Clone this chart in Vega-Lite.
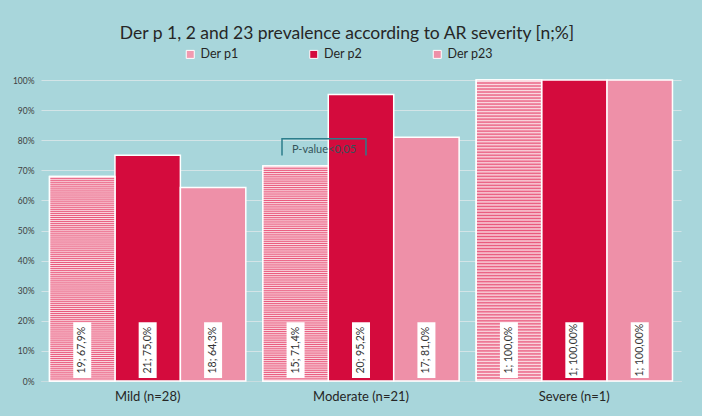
{
  "$schema": "https://vega.github.io/schema/vega-lite/v6.json",
  "width": 640,
  "height": 301,
  "autosize": "none",
  "padding": {"left": 41, "top": 80, "right": 21, "bottom": 35},
  "background": "#A8D6DB",
  "config": {"view": {"stroke": null}, "font": "Lato"},
  "title": {
    "text": "Der p 1, 2 and 23 prevalence according to AR severity [n;%]",
    "font": "Lato", "fontSize": 17.5, "fontWeight": "normal", "color": "#262626",
    "anchor": "middle", "frame": "group", "dx": -14, "offset": 6
  },
  "layer": [
    {
      "data": {"values": [
        {"group": "Mild (n=28)", "series": "Der p1", "value": 67.9, "label": "19; 67,9%"},
        {"group": "Mild (n=28)", "series": "Der p2", "value": 75.0, "label": "21; 75,0%"},
        {"group": "Mild (n=28)", "series": "Der p23", "value": 64.3, "label": "18; 64,3%"},
        {"group": "Moderate (n=21)", "series": "Der p1", "value": 71.4, "label": "15; 71,4%"},
        {"group": "Moderate (n=21)", "series": "Der p2", "value": 95.2, "label": "20; 95,2%"},
        {"group": "Moderate (n=21)", "series": "Der p23", "value": 81.0, "label": "17; 81,0%"},
        {"group": "Severe (n=1)", "series": "Der p1", "value": 100, "label": "1; 100,0%"},
        {"group": "Severe (n=1)", "series": "Der p2", "value": 100, "label": "1; 100,00%"},
        {"group": "Severe (n=1)", "series": "Der p23", "value": 100, "label": "1; 100,00%"}
      ]},
      "encoding": {
        "x": {"field": "group", "type": "nominal", "sort": null, "title": null,
          "scale": {"paddingInner": 0.08, "paddingOuter": 0.04},
          "axis": {"labelAngle": 0, "labelFontSize": 13, "labelColor": "#262626", "labelPadding": 9, "ticks": false, "domainColor": "#C8DDE0", "grid": false}},
        "xOffset": {"field": "series", "type": "nominal", "sort": null, "scale": {"paddingInner": 0, "paddingOuter": 0}}
      },
      "layer": [
        {
          "mark": {"type": "bar", "stroke": "white", "strokeWidth": 1.5},
          "encoding": {
            "y": {"field": "value", "type": "quantitative", "title": null,
              "scale": {"domain": [0, 100]},
              "axis": {"values": [0, 10, 20, 30, 40, 50, 60, 70, 80, 90, 100], "labelExpr": "datum.value + '%'", "labelFontSize": 8.5, "labelColor": "#404040", "labelPadding": 7, "ticks": false, "domain": false, "gridColor": "#D3E4E7", "gridWidth": 1.2, "labelOverlap": false}},
            "color": {"field": "series", "type": "nominal", "sort": null,
              "scale": {"range": ["#F19AB0", "#D40B3D", "#EE90A8"]},
              "legend": {"orient": "none", "direction": "horizontal", "columns": 3, "gridAlign": "all", "columnPadding": 61.5, "legendX": 143, "legendY": -32, "title": null, "symbolType": "square", "symbolSize": 64, "symbolStrokeColor": "white", "symbolStrokeWidth": 1, "labelFontSize": 12.5, "labelColor": "#262626", "labelOffset": 4, "padding": 0}}
          }
        },
        {
          "transform": [{"filter": "datum.series === 'Der p1'"}],
          "mark": {"type": "bar", "stroke": "white", "strokeWidth": 1.5, "fill": {"gradient": "linear", "x1": 0, "y1": 0, "x2": 0, "y2": 1, "stops": [
{"offset":0,"color":"#E9587C"},{"offset":0.005,"color":"#FADCE3"},{"offset":0.01,"color":"#E9587C"},{"offset":0.015,"color":"#FADCE3"},{"offset":0.02,"color":"#E9587C"},{"offset":0.025,"color":"#FADCE3"},{"offset":0.03,"color":"#E9587C"},{"offset":0.035,"color":"#FADCE3"},{"offset":0.04,"color":"#E9587C"},{"offset":0.045,"color":"#FADCE3"},
{"offset":0.05,"color":"#E9587C"},{"offset":0.055,"color":"#FADCE3"},{"offset":0.06,"color":"#E9587C"},{"offset":0.065,"color":"#FADCE3"},{"offset":0.07,"color":"#E9587C"},{"offset":0.075,"color":"#FADCE3"},{"offset":0.08,"color":"#E9587C"},{"offset":0.085,"color":"#FADCE3"},{"offset":0.09,"color":"#E9587C"},{"offset":0.095,"color":"#FADCE3"},
{"offset":0.1,"color":"#E9587C"},{"offset":0.105,"color":"#FADCE3"},{"offset":0.11,"color":"#E9587C"},{"offset":0.115,"color":"#FADCE3"},{"offset":0.12,"color":"#E9587C"},{"offset":0.125,"color":"#FADCE3"},{"offset":0.13,"color":"#E9587C"},{"offset":0.135,"color":"#FADCE3"},{"offset":0.14,"color":"#E9587C"},{"offset":0.145,"color":"#FADCE3"},
{"offset":0.15,"color":"#E9587C"},{"offset":0.155,"color":"#FADCE3"},{"offset":0.16,"color":"#E9587C"},{"offset":0.165,"color":"#FADCE3"},{"offset":0.17,"color":"#E9587C"},{"offset":0.175,"color":"#FADCE3"},{"offset":0.18,"color":"#E9587C"},{"offset":0.185,"color":"#FADCE3"},{"offset":0.19,"color":"#E9587C"},{"offset":0.195,"color":"#FADCE3"},
{"offset":0.2,"color":"#E9587C"},{"offset":0.205,"color":"#FADCE3"},{"offset":0.21,"color":"#E9587C"},{"offset":0.215,"color":"#FADCE3"},{"offset":0.22,"color":"#E9587C"},{"offset":0.225,"color":"#FADCE3"},{"offset":0.23,"color":"#E9587C"},{"offset":0.235,"color":"#FADCE3"},{"offset":0.24,"color":"#E9587C"},{"offset":0.245,"color":"#FADCE3"},
{"offset":0.25,"color":"#E9587C"},{"offset":0.255,"color":"#FADCE3"},{"offset":0.26,"color":"#E9587C"},{"offset":0.265,"color":"#FADCE3"},{"offset":0.27,"color":"#E9587C"},{"offset":0.275,"color":"#FADCE3"},{"offset":0.28,"color":"#E9587C"},{"offset":0.285,"color":"#FADCE3"},{"offset":0.29,"color":"#E9587C"},{"offset":0.295,"color":"#FADCE3"},
{"offset":0.3,"color":"#E9587C"},{"offset":0.305,"color":"#FADCE3"},{"offset":0.31,"color":"#E9587C"},{"offset":0.315,"color":"#FADCE3"},{"offset":0.32,"color":"#E9587C"},{"offset":0.325,"color":"#FADCE3"},{"offset":0.33,"color":"#E9587C"},{"offset":0.335,"color":"#FADCE3"},{"offset":0.34,"color":"#E9587C"},{"offset":0.345,"color":"#FADCE3"},
{"offset":0.35,"color":"#E9587C"},{"offset":0.355,"color":"#FADCE3"},{"offset":0.36,"color":"#E9587C"},{"offset":0.365,"color":"#FADCE3"},{"offset":0.37,"color":"#E9587C"},{"offset":0.375,"color":"#FADCE3"},{"offset":0.38,"color":"#E9587C"},{"offset":0.385,"color":"#FADCE3"},{"offset":0.39,"color":"#E9587C"},{"offset":0.395,"color":"#FADCE3"},
{"offset":0.4,"color":"#E9587C"},{"offset":0.405,"color":"#FADCE3"},{"offset":0.41,"color":"#E9587C"},{"offset":0.415,"color":"#FADCE3"},{"offset":0.42,"color":"#E9587C"},{"offset":0.425,"color":"#FADCE3"},{"offset":0.43,"color":"#E9587C"},{"offset":0.435,"color":"#FADCE3"},{"offset":0.44,"color":"#E9587C"},{"offset":0.445,"color":"#FADCE3"},
{"offset":0.45,"color":"#E9587C"},{"offset":0.455,"color":"#FADCE3"},{"offset":0.46,"color":"#E9587C"},{"offset":0.465,"color":"#FADCE3"},{"offset":0.47,"color":"#E9587C"},{"offset":0.475,"color":"#FADCE3"},{"offset":0.48,"color":"#E9587C"},{"offset":0.485,"color":"#FADCE3"},{"offset":0.49,"color":"#E9587C"},{"offset":0.495,"color":"#FADCE3"},
{"offset":0.5,"color":"#E9587C"},{"offset":0.505,"color":"#FADCE3"},{"offset":0.51,"color":"#E9587C"},{"offset":0.515,"color":"#FADCE3"},{"offset":0.52,"color":"#E9587C"},{"offset":0.525,"color":"#FADCE3"},{"offset":0.53,"color":"#E9587C"},{"offset":0.535,"color":"#FADCE3"},{"offset":0.54,"color":"#E9587C"},{"offset":0.545,"color":"#FADCE3"},
{"offset":0.55,"color":"#E9587C"},{"offset":0.555,"color":"#FADCE3"},{"offset":0.56,"color":"#E9587C"},{"offset":0.565,"color":"#FADCE3"},{"offset":0.57,"color":"#E9587C"},{"offset":0.575,"color":"#FADCE3"},{"offset":0.58,"color":"#E9587C"},{"offset":0.585,"color":"#FADCE3"},{"offset":0.59,"color":"#E9587C"},{"offset":0.595,"color":"#FADCE3"},
{"offset":0.6,"color":"#E9587C"},{"offset":0.605,"color":"#FADCE3"},{"offset":0.61,"color":"#E9587C"},{"offset":0.615,"color":"#FADCE3"},{"offset":0.62,"color":"#E9587C"},{"offset":0.625,"color":"#FADCE3"},{"offset":0.63,"color":"#E9587C"},{"offset":0.635,"color":"#FADCE3"},{"offset":0.64,"color":"#E9587C"},{"offset":0.645,"color":"#FADCE3"},
{"offset":0.65,"color":"#E9587C"},{"offset":0.655,"color":"#FADCE3"},{"offset":0.66,"color":"#E9587C"},{"offset":0.665,"color":"#FADCE3"},{"offset":0.67,"color":"#E9587C"},{"offset":0.675,"color":"#FADCE3"},{"offset":0.68,"color":"#E9587C"},{"offset":0.685,"color":"#FADCE3"},{"offset":0.69,"color":"#E9587C"},{"offset":0.695,"color":"#FADCE3"},
{"offset":0.7,"color":"#E9587C"},{"offset":0.705,"color":"#FADCE3"},{"offset":0.71,"color":"#E9587C"},{"offset":0.715,"color":"#FADCE3"},{"offset":0.72,"color":"#E9587C"},{"offset":0.725,"color":"#FADCE3"},{"offset":0.73,"color":"#E9587C"},{"offset":0.735,"color":"#FADCE3"},{"offset":0.74,"color":"#E9587C"},{"offset":0.745,"color":"#FADCE3"},
{"offset":0.75,"color":"#E9587C"},{"offset":0.755,"color":"#FADCE3"},{"offset":0.76,"color":"#E9587C"},{"offset":0.765,"color":"#FADCE3"},{"offset":0.77,"color":"#E9587C"},{"offset":0.775,"color":"#FADCE3"},{"offset":0.78,"color":"#E9587C"},{"offset":0.785,"color":"#FADCE3"},{"offset":0.79,"color":"#E9587C"},{"offset":0.795,"color":"#FADCE3"},
{"offset":0.8,"color":"#E9587C"},{"offset":0.805,"color":"#FADCE3"},{"offset":0.81,"color":"#E9587C"},{"offset":0.815,"color":"#FADCE3"},{"offset":0.82,"color":"#E9587C"},{"offset":0.825,"color":"#FADCE3"},{"offset":0.83,"color":"#E9587C"},{"offset":0.835,"color":"#FADCE3"},{"offset":0.84,"color":"#E9587C"},{"offset":0.845,"color":"#FADCE3"},
{"offset":0.85,"color":"#E9587C"},{"offset":0.855,"color":"#FADCE3"},{"offset":0.86,"color":"#E9587C"},{"offset":0.865,"color":"#FADCE3"},{"offset":0.87,"color":"#E9587C"},{"offset":0.875,"color":"#FADCE3"},{"offset":0.88,"color":"#E9587C"},{"offset":0.885,"color":"#FADCE3"},{"offset":0.89,"color":"#E9587C"},{"offset":0.895,"color":"#FADCE3"},
{"offset":0.9,"color":"#E9587C"},{"offset":0.905,"color":"#FADCE3"},{"offset":0.91,"color":"#E9587C"},{"offset":0.915,"color":"#FADCE3"},{"offset":0.92,"color":"#E9587C"},{"offset":0.925,"color":"#FADCE3"},{"offset":0.93,"color":"#E9587C"},{"offset":0.935,"color":"#FADCE3"},{"offset":0.94,"color":"#E9587C"},{"offset":0.945,"color":"#FADCE3"},
{"offset":0.95,"color":"#E9587C"},{"offset":0.955,"color":"#FADCE3"},{"offset":0.96,"color":"#E9587C"},{"offset":0.965,"color":"#FADCE3"},{"offset":0.97,"color":"#E9587C"},{"offset":0.975,"color":"#FADCE3"},{"offset":0.98,"color":"#E9587C"},{"offset":0.985,"color":"#FADCE3"},{"offset":0.99,"color":"#E9587C"},{"offset":0.995,"color":"#FADCE3"},
{"offset":1,"color":"#E9587C"}
          ]}},
          "encoding": {"y": {"field": "value", "type": "quantitative", "title": null,
              "scale": {"domain": [0, 100]},
              "axis": {"values": [0, 10, 20, 30, 40, 50, 60, 70, 80, 90, 100], "labelExpr": "datum.value + '%'", "labelFontSize": 8.5, "labelColor": "#404040", "labelPadding": 7, "ticks": false, "domain": false, "gridColor": "#D3E4E7", "gridWidth": 1.2, "labelOverlap": false}}}
        },
        {
          "mark": {"type": "bar", "fill": "white", "width": 18},
          "encoding": {"y": {"datum": 19.5, "title": null,
              "scale": {"domain": [0, 100]},
              "axis": {"values": [0, 10, 20, 30, 40, 50, 60, 70, 80, 90, 100], "labelExpr": "datum.value + '%'", "labelFontSize": 8.5, "labelColor": "#404040", "labelPadding": 7, "ticks": false, "domain": false, "gridColor": "#D3E4E7", "gridWidth": 1.2, "labelOverlap": false}}, "y2": {"datum": 1}}
        },
        {
          "mark": {"type": "text", "angle": 270, "align": "center", "baseline": "middle", "fontSize": 10.5, "color": "#333333", "font": "Lato"},
          "encoding": {"y": {"datum": 10.25, "title": null,
              "scale": {"domain": [0, 100]},
              "axis": {"values": [0, 10, 20, 30, 40, 50, 60, 70, 80, 90, 100], "labelExpr": "datum.value + '%'", "labelFontSize": 8.5, "labelColor": "#404040", "labelPadding": 7, "ticks": false, "domain": false, "gridColor": "#D3E4E7", "gridWidth": 1.2, "labelOverlap": false}}, "text": {"field": "label"}}
        }
      ]
    },
    {
      "data": {"values": [
        {"i": 1, "bx": 0.6297, "by": 74.9},
        {"i": 2, "bx": 0.6297, "by": 80.5},
        {"i": 3, "bx": 1.0234, "by": 80.5},
        {"i": 4, "bx": 1.0234, "by": 74.9}
      ]},
      "mark": {"type": "line", "color": "#2C7E8C", "strokeWidth": 1.5},
      "encoding": {
        "x": {"field": "bx", "type": "quantitative", "scale": {"domain": [-0.5, 2.5]}, "axis": null},
        "y": {"field": "by", "type": "quantitative", "title": null,
              "scale": {"domain": [0, 100]},
              "axis": {"values": [0, 10, 20, 30, 40, 50, 60, 70, 80, 90, 100], "labelExpr": "datum.value + '%'", "labelFontSize": 8.5, "labelColor": "#404040", "labelPadding": 7, "ticks": false, "domain": false, "gridColor": "#D3E4E7", "gridWidth": 1.2, "labelOverlap": false}},
        "order": {"field": "i"}
      }
    },
    {
      "data": {"values": [{"bx": 0.8266, "by": 76.7, "note": "P-value<0,05"}]},
      "mark": {"type": "text", "fontSize": 11, "color": "#34545A", "font": "Lato", "align": "center", "baseline": "middle"},
      "encoding": {
        "x": {"field": "bx", "type": "quantitative", "scale": {"domain": [-0.5, 2.5]}, "axis": null},
        "y": {"field": "by", "type": "quantitative", "title": null,
              "scale": {"domain": [0, 100]},
              "axis": {"values": [0, 10, 20, 30, 40, 50, 60, 70, 80, 90, 100], "labelExpr": "datum.value + '%'", "labelFontSize": 8.5, "labelColor": "#404040", "labelPadding": 7, "ticks": false, "domain": false, "gridColor": "#D3E4E7", "gridWidth": 1.2, "labelOverlap": false}},
        "text": {"field": "note"}
      }
    }
  ],
  "resolve": {"scale": {"x": "independent"}}
}
